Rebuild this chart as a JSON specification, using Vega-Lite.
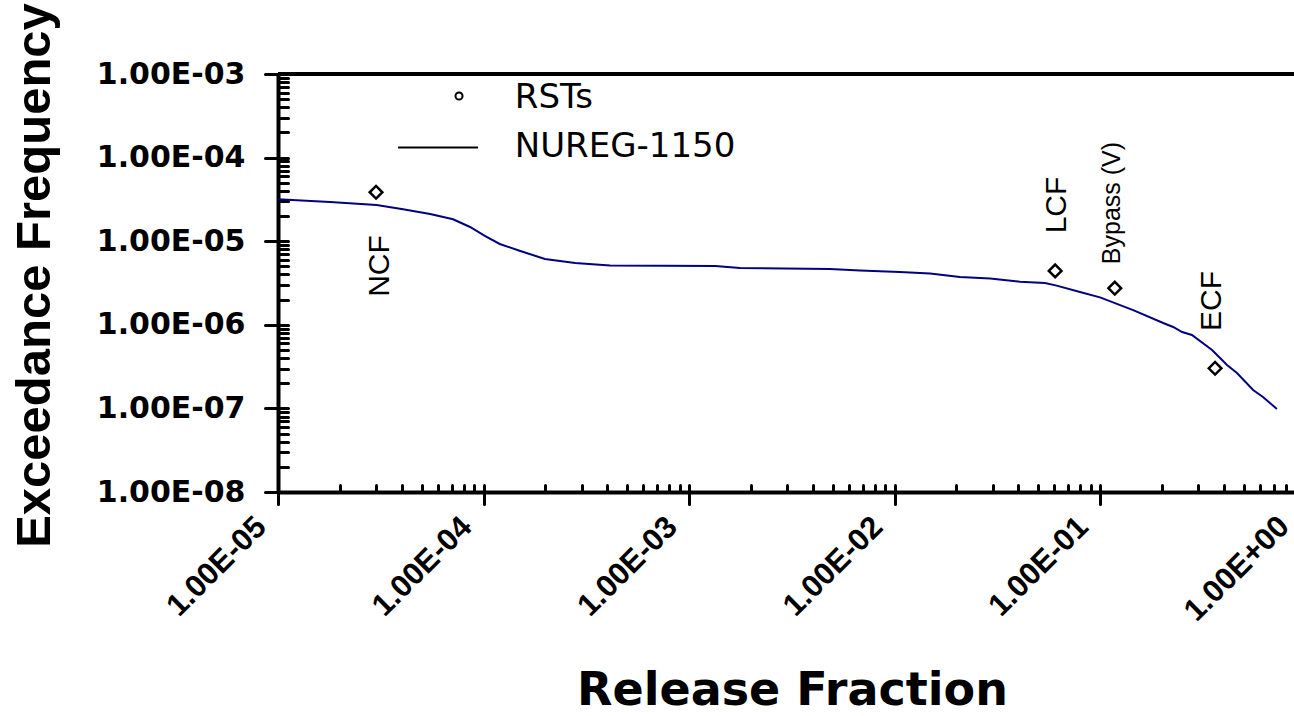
{
  "$schema": "https://vega.github.io/schema/vega-lite/v6.json",
  "width": 1016,
  "height": 418,
  "autosize": {"type": "none"},
  "padding": {"left": 278, "top": 74, "right": 0, "bottom": 224},
  "background": "white",
  "config": {
    "view": {"stroke": null},
    "axis": {"grid": false, "labelFlush": false, "labelOverlap": false, "tickCap": "round", "tickColor": "black", "domainColor": "black", "labelColor": "black", "titleColor": "black"}
  },
  "datasets": {
    "curve": [
      {"fraction": 1e-5, "frequency": 3.17e-5},
      {"fraction": 1.79e-5, "frequency": 2.94e-5},
      {"fraction": 3.02e-5, "frequency": 2.71e-5},
      {"fraction": 4.06e-5, "frequency": 2.41e-5},
      {"fraction": 5.5e-5, "frequency": 2.11e-5},
      {"fraction": 7.11e-5, "frequency": 1.83e-5},
      {"fraction": 8.6e-5, "frequency": 1.48e-5},
      {"fraction": 1.02e-4, "frequency": 1.15e-5},
      {"fraction": 1.2e-4, "frequency": 9.26e-6},
      {"fraction": 1.51e-4, "frequency": 7.64e-6},
      {"fraction": 1.99e-4, "frequency": 6.13e-6},
      {"fraction": 2.79e-4, "frequency": 5.48e-6},
      {"fraction": 4.13e-4, "frequency": 5.12e-6},
      {"fraction": 1.34e-3, "frequency": 5.05e-6},
      {"fraction": 1.77e-3, "frequency": 4.78e-6},
      {"fraction": 4.85e-3, "frequency": 4.65e-6},
      {"fraction": 6.79e-3, "frequency": 4.46e-6},
      {"fraction": 1.06e-2, "frequency": 4.29e-6},
      {"fraction": 1.49e-2, "frequency": 4.11e-6},
      {"fraction": 2.08e-2, "frequency": 3.73e-6},
      {"fraction": 2.92e-2, "frequency": 3.58e-6},
      {"fraction": 4.08e-2, "frequency": 3.28e-6},
      {"fraction": 5.4e-2, "frequency": 3.16e-6},
      {"fraction": 6.15e-2, "frequency": 2.94e-6},
      {"fraction": 7.99e-2, "frequency": 2.47e-6},
      {"fraction": 0.1, "frequency": 2.13e-6},
      {"fraction": 0.145, "frequency": 1.5e-6},
      {"fraction": 0.203, "frequency": 1.05e-6},
      {"fraction": 0.227, "frequency": 9.42e-7},
      {"fraction": 0.251, "frequency": 8.2e-7},
      {"fraction": 0.28, "frequency": 7.55e-7},
      {"fraction": 0.351, "frequency": 5.0e-7},
      {"fraction": 0.415, "frequency": 3.31e-7},
      {"fraction": 0.464, "frequency": 2.65e-7},
      {"fraction": 0.556, "frequency": 1.66e-7},
      {"fraction": 0.621, "frequency": 1.37e-7},
      {"fraction": 0.726, "frequency": 9.83e-8}
    ],
    "rsts": [
      {"name": "NCF", "fraction": 3.0e-5, "frequency": 3.85e-5},
      {"name": "LCF", "fraction": 6.05e-2, "frequency": 4.41e-6},
      {"name": "Bypass (V)", "fraction": 0.118, "frequency": 2.74e-6},
      {"name": "ECF", "fraction": 0.363, "frequency": 3.02e-7}
    ],
    "annotations": [
      {"label": "NCF", "fraction": 3.12e-5, "frequency": 5.05e-6},
      {"label": "LCF", "fraction": 6.18e-2, "frequency": 2.71e-5},
      {"label": "Bypass (V)", "fraction": 0.114, "frequency": 2.86e-5},
      {"label": "ECF", "fraction": 0.351, "frequency": 1.93e-6}
    ]
  },
  "layer": [
    {
      "data": {"name": "curve"},
      "mark": {"type": "line", "color": "#000080", "strokeWidth": 2},
      "encoding": {
        "x": {
          "field": "fraction", "type": "quantitative",
          "scale": {"type": "log", "domain": [1e-5, 0.879], "nice": false},
          "axis": {
            "orient": "bottom",
            "values": [1e-5, 1e-4, 1e-3, 1e-2, 1e-1],
            "labelExpr": "'1.00E-0' + (-round(log(datum.value)/LN10))",
            "tickSize": 12, "tickWidth": 3, "domainWidth": 4,
            "labelAngle": -45, "labelAlign": "right", "labelBaseline": "middle",
            "labelOffset": -17, "labelPadding": 18,
            "labelFont": "Liberation Sans", "labelFontWeight": "bold", "labelFontSize": 31,
            "title": "Release Fraction",
            "titleFont": "DejaVu Sans", "titleFontWeight": "bold", "titleFontSize": 46,
            "titleX": 514, "titleY": 212, "titleBaseline": "alphabetic", "titleAlign": "center"
          }
        },
        "y": {
          "field": "frequency", "type": "quantitative",
          "scale": {"type": "log", "domain": [1e-8, 1e-3], "nice": false},
          "axis": {
            "orient": "left",
            "values": [1e-8, 1e-7, 1e-6, 1e-5, 1e-4, 1e-3],
            "labelExpr": "'1.00E-0' + (-round(log(datum.value)/LN10))",
            "tickSize": 13, "tickWidth": 3, "domainWidth": 4,
            "labelPadding": 20, "labelAlign": "right", "labelBaseline": "middle",
            "labelFont": "DejaVu Sans", "labelFontWeight": "bold", "labelFontSize": 30,
            "title": "Exceedance Frequency",
            "titleFont": "Liberation Sans", "titleFontWeight": "bold", "titleFontSize": 49,
            "titleAngle": 270, "titleX": -229, "titleY": 201, "titleBaseline": "alphabetic", "titleAlign": "center"
          }
        }
      }
    },
    {
      "data": {"name": "rsts"},
      "mark": {"type": "point", "shape": "diamond", "filled": false, "stroke": "black", "strokeWidth": 2.5, "size": 160, "opacity": 1},
      "encoding": {
        "x": {
          "field": "fraction", "type": "quantitative",
          "scale": {"type": "log", "domain": [1e-5, 0.879], "nice": false},
          "axis": {
            "orient": "bottom",
            "values": [2e-5, 3e-5, 4e-5, 5e-5, 6e-5, 7e-5, 8e-5, 9e-5, 1e-4, 2e-4, 3e-4, 4e-4, 5e-4, 6e-4, 7e-4, 8e-4, 9e-4, 1e-3, 2e-3, 3e-3, 4e-3, 5e-3, 6e-3, 7e-3, 8e-3, 9e-3, 1e-2, 2e-2, 3e-2, 4e-2, 5e-2, 6e-2, 7e-2, 8e-2, 9e-2, 1e-1, 0.2, 0.3, 0.4, 0.5, 0.6, 0.7, 0.8],
            "labels": false, "domain": false, "tickSize": -7, "tickWidth": 3, "title": null
          }
        },
        "y": {
          "field": "frequency", "type": "quantitative",
          "scale": {"type": "log", "domain": [1e-8, 1e-3], "nice": false},
          "axis": {
            "orient": "left",
            "values": [2e-8, 3e-8, 4e-8, 5e-8, 6e-8, 7e-8, 8e-8, 9e-8, 1e-7, 2e-7, 3e-7, 4e-7, 5e-7, 6e-7, 7e-7, 8e-7, 9e-7, 1e-6, 2e-6, 3e-6, 4e-6, 5e-6, 6e-6, 7e-6, 8e-6, 9e-6, 1e-5, 2e-5, 3e-5, 4e-5, 5e-5, 6e-5, 7e-5, 8e-5, 9e-5, 1e-4, 2e-4, 3e-4, 4e-4, 5e-4, 6e-4, 7e-4, 8e-4, 9e-4],
            "labels": false, "domain": false, "tickSize": -10, "tickWidth": 3, "title": null
          }
        }
      }
    },
    {
      "data": {"values": [{"frequency": 1e-3}]},
      "mark": {"type": "rule", "color": "black", "strokeWidth": 4},
      "encoding": {
        "y": {"field": "frequency", "type": "quantitative", "scale": {"type": "log", "domain": [1e-8, 1e-3], "nice": false}, "axis": null}
      }
    },
    {
      "data": {"name": "annotations"},
      "mark": {"type": "text", "angle": 270, "align": "center", "baseline": "middle", "font": "Liberation Sans", "color": "black"},
      "encoding": {
        "x": {"field": "fraction", "type": "quantitative", "scale": {"type": "log", "domain": [1e-5, 0.879], "nice": false}, "axis": null},
        "y": {"field": "frequency", "type": "quantitative", "scale": {"type": "log", "domain": [1e-8, 1e-3], "nice": false}, "axis": null},
        "text": {"field": "label"},
        "size": {"condition": {"test": "datum.label === 'Bypass (V)'", "value": 25}, "value": 30}
      }
    },
    {
      "data": {"values": [{"fraction": 7.6e-5, "frequency": 5.46e-4}]},
      "mark": {"type": "point", "shape": "circle", "filled": false, "stroke": "black", "strokeWidth": 2, "size": 50, "opacity": 1},
      "encoding": {
        "x": {"field": "fraction", "type": "quantitative", "scale": {"type": "log", "domain": [1e-5, 0.879], "nice": false}, "axis": null},
        "y": {"field": "frequency", "type": "quantitative", "scale": {"type": "log", "domain": [1e-8, 1e-3], "nice": false}, "axis": null}
      }
    },
    {
      "data": {"values": [{"start": 3.84e-5, "end": 9.4e-5, "frequency": 1.32e-4}]},
      "mark": {"type": "rule", "color": "black", "strokeWidth": 2},
      "encoding": {
        "x": {"field": "start", "type": "quantitative", "scale": {"type": "log", "domain": [1e-5, 0.879], "nice": false}, "axis": null},
        "x2": {"field": "end"},
        "y": {"field": "frequency", "type": "quantitative", "scale": {"type": "log", "domain": [1e-8, 1e-3], "nice": false}, "axis": null}
      }
    },
    {
      "data": {"values": [{"fraction": 1.42e-4, "frequency": 3.92e-4, "label": "RSTs"}, {"fraction": 1.42e-4, "frequency": 1.016e-4, "label": "NUREG-1150"}]},
      "mark": {"type": "text", "align": "left", "baseline": "alphabetic", "font": "DejaVu Sans", "fontSize": 34, "color": "black"},
      "encoding": {
        "x": {"field": "fraction", "type": "quantitative", "scale": {"type": "log", "domain": [1e-5, 0.879], "nice": false}, "axis": null},
        "y": {"field": "frequency", "type": "quantitative", "scale": {"type": "log", "domain": [1e-8, 1e-3], "nice": false}, "axis": null},
        "text": {"field": "label"}
      }
    },
    {
      "data": {"values": [{"fraction": 1, "frequency": 1e-8, "label": "1.00E+00"}]},
      "mark": {"type": "text", "angle": 315, "align": "right", "baseline": "middle", "dx": -36, "dy": 6.4, "font": "Liberation Sans", "fontWeight": "bold", "fontSize": 31, "color": "black"},
      "encoding": {
        "x": {"field": "fraction", "type": "quantitative", "scale": {"type": "log", "domain": [1e-5, 0.879], "nice": false}, "axis": null},
        "y": {"field": "frequency", "type": "quantitative", "scale": {"type": "log", "domain": [1e-8, 1e-3], "nice": false}, "axis": null},
        "text": {"field": "label"}
      }
    }
  ],
  "resolve": {"axis": {"x": "independent", "y": "independent"}}
}
